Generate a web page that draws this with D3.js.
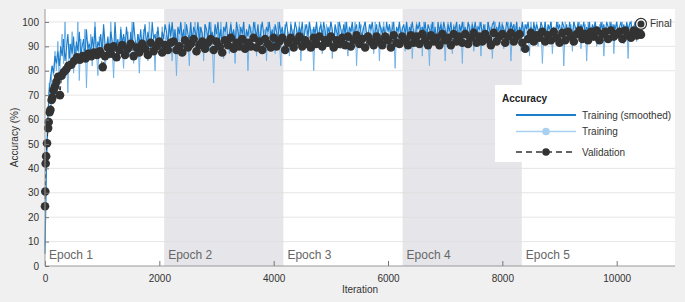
<!DOCTYPE html>
<html><head><meta charset="utf-8">
<script src="https://cdn.jsdelivr.net/npm/d3@7"></script>
<style>
html,body{margin:0;padding:0;background:#f0f0f0;}
svg{display:block;font-family:"Liberation Sans",Arial,Helvetica,sans-serif;}
</style></head>
<body>
<svg id="chart" width="685" height="302"></svg>
<script>
// ---- data ----
const totalIter = 10425;
const epochLabels = ["Epoch 1","Epoch 2","Epoch 3","Epoch 4","Epoch 5"];
const epochEnds = [2085, 4170, 6255, 8340, 10425];
const xTicks = [0, 2000, 4000, 6000, 8000, 10000];
const yTicks = [0,10,20,30,40,50,60,70,80,90,100];

// training accuracy per mini-batch, sampled every 25 iterations
const trainAcc = [
 8,45,62,75,70,82,78,88,80,
 92,74,88,95,83,100,86,71,91,84,96,79,
 90,87,100,76,93,85,89,97,73,92,86,95,
 82,90,100,88,78,94,87,91,97,80,89,93,
 85,100,90,77,95,88,92,84,98,90,81,94,
 89,96,86,92,100,83,91,88,95,79,93,90,
 97,87,92,84,100,91,88,94,80,96,90,93,86,98,89,92,
 95,88,100,91,84,97,93,78,96,90,99,87,
 94,100,89,92,82,97,95,91,100,86,93,98,
 90,96,84,99,92,95,88,100,93,75,97,91,
 96,89,100,94,85,98,92,95,87,100,93,96,
 83,97,91,99,94,88,100,92,96,80,95,98,
 90,94,100,86,96,92,99,89,95,97,84,100,
 93,96,91,98,87,95,100,92,82,97,94,
 99,91,96,86,100,94,97,89,98,93,100,84,
 96,92,99,95,88,100,93,97,80,96,99,91,
 95,100,87,97,93,99,90,96,100,85,94,98,
 92,100,96,89,97,94,100,91,86,98,95,99,
 93,100,82,96,92,99,97,88,100,94,96,90,
 99,95,87,100,93,97,84,98,96,100,92,95,
 89,99,94,100,96,81,97,93,100,91,98,
 95,88,100,96,92,99,85,97,94,100,90,96,
 98,86,100,93,97,95,82,99,96,100,91,94,
 97,89,100,95,98,84,96,100,93,97,87,99,
 95,100,92,96,98,83,100,94,97,90,99,96,
 100,88,95,98,93,100,86,97,96,99,91,100,
 94,98,85,97,100,95,92,99,96,100,89,97,
 94,100,98,84,96,99,93,100,95,97,88,
 100,96,92,99,97,86,100,94,98,95,100,90,
 97,99,83,96,100,93,98,95,100,87,97,94,
 99,100,91,96,98,82,100,95,97,93,99,88,
 100,96,94,98,100,89,97,95,99,84,100,93,
 97,98,96,100,90,94,99,97,100,86,96,98,
 93,100,95,99,87,97,100,94,98,96,100,91,
 97,99,85,100,96,94,98,100,92,97,99,100
];

// smoothed training accuracy, sampled every 25 iterations
const smoothAcc = [
 5,40,60,72,78,82,79,86,83,
 88,82,90,86,93,84,89,95,85,91,87,94,
 83,92,88,96,86,90,93,85,97,89,91,87,
 94,88,98,86,92,90,95,87,99,91,89,94,
 86,96,92,88,100,90,93,87,97,91,95,89,
 98,92,88,96,90,100,93,89,95,91,97,88,
 94,99,90,96,92,88,100,93,95,90,98,92,89,96,93,99,
 96,91,99,94,100,92,97,89,98,95,100,93,
 97,90,99,95,93,100,91,98,96,94,100,92,
 98,95,90,99,97,93,100,94,96,91,99,95,
 100,93,97,89,98,96,100,92,95,99,94,97,
 91,100,96,93,98,95,100,90,97,94,99,96,
 92,100,97,94,99,91,96,100,95,93,98,96,
 100,94,97,90,99,96,93,100,95,98,92,97,
 100,95,91,99,96,94,100,97,93,98,95,100,
 92,97,99,94,100,96,90,98,95,100,93,97,
 99,94,100,96,92,98,95,100,97,91,99,96,
 94,100,97,93,99,95,100,92,98,96,100,94,
 97,99,91,100,96,94,98,100,95,93,99,97,
 100,94,96,99,92,100,97,95,98,93,100,96,
 99,94,97,100,91,98,96,100,94,97,99,95,
 100,93,98,96,100,95,92,99,97,100,94,98,
 96,100,93,99,97,95,100,94,98,91,100,96,
 99,95,100,97,93,99,96,100,94,98,97,100,
 92,99,96,100,95,98,94,100,97,93,99,96,
 100,95,98,97,100,94,99,96,92,100,97,95,
 99,100,94,98,96,100,93,99,97,95,100,98,
 94,100,97,99,95,100,92,98,96,100,94,99,
 97,100,95,98,93,100,96,99,97,94,100,98,
 96,100,93,99,97,100,95,98,94,100,97,99,
 95,100,98,96,99,93,100,97,95,100,98,96,
 100,94,99,97,100,95,98,96,100,93,99,97,
 100,96,98,94,100,97,99,95,100,98,96,100,
 93,99,97,100,95,98,100,96,99,94,100,97,
 99,100,96,98,100,95,99,97,100
];

// validation: early checkpoints
const valEarlyIter = [0,5,12,20,35,55,65,80,95,115,130,150,175,200,230,262,290,330,370,410,460,510,560,610,660,710,760,810,860,910,960,1010];
const valEarlyAcc  = [24.5,30.5,42,45,50.3,56.5,59,63,64,68,69,72,73.5,75.5,77.5,70,78,79.5,80.5,82,82.5,84,85.5,84.5,86,85,87,86,87.5,86.5,88,81.5];
// validation: every 50 iterations from 1050 to 10400
const valAcc = [
 86,89.5,87,90,85.5,88.5,90.5,86.5,89,91,86,89.5,
 87.5,91,89,86.5,91.5,88,90,92,87.5,90.5,88.5,91.5,
 92,88.5,90,87.5,92.5,89.5,91,93,88,90.5,92,89,
 91.5,93,88.5,92,90,87.5,92.5,90.5,93.5,89,91.5,90,
 93,89,91.5,90,93.5,89.5,92,88.5,93,91,89.5,93.5,
 90,92,93.5,88.5,91.5,93.5,89.5,92,94,90,92.5,91,
 89.5,93.5,91,94,90,92.5,91.5,94,89.5,92.5,91,93.5,
 90.5,94,90,92.5,94.5,91,93,89.5,94,92,90.5,94,
 92,90.5,94,92.5,89.5,94.5,91.5,91,94,92.5,90.5,94.5,
 91.5,94,91,95,92.5,90.5,94.5,92,93.5,90.5,95,92.5,
 93.5,90.5,95,92,94,91.5,95,91,93.5,95.5,91.5,94,
 92,95,93,90.5,95.5,92,94,95,91.5,94,95.5,92,
 94,95,91.5,89,93,95.5,92,94.5,93.5,96,92,94.5,
 92.5,96,93.5,91.5,95.5,92.5,96,94,92,95,96.5,93,
 95,92.5,96,94,96.5,92.5,95,96,93,96.5,94,95,
 96,93,96.5,94.5,93.5,96.5,94.5,95.5
];
const valLastIter = 10425, valLastAcc = 94.8;
const finalIter = 10425, finalAcc = 99.2;

// ---- drawing ----
const svg = d3.select("#chart");
const W = 685, H = 302;
const m = {l:45, r:10, t:9, b:36};
const xMax = 11020, yMax = 105.3;
const x = d3.scaleLinear().domain([0, xMax]).range([m.l, W - m.r]);
const y = d3.scaleLinear().domain([0, yMax]).range([H - m.b, m.t]);

svg.append("rect").attr("width", W).attr("height", H).attr("fill", "#f0f0f0");
svg.append("rect").attr("x", x(0)).attr("y", y(yMax))
  .attr("width", x(xMax) - x(0)).attr("height", y(0) - y(yMax)).attr("fill", "#ffffff");

// epoch bands
const epochStarts = [0].concat(epochEnds.slice(0, -1));
svg.append("g").selectAll("rect").data(epochStarts.map((s,i)=>({s, e:epochEnds[i], i})).filter(d=>d.i%2===1))
  .join("rect")
  .attr("x", d => x(d.s)).attr("width", d => x(d.e) - x(d.s))
  .attr("y", y(yMax)).attr("height", y(0) - y(yMax))
  .attr("fill", "#e6e6ea");

// grid
svg.append("g").selectAll("line").data(yTicks.slice(1)).join("line")
  .attr("x1", x(0)).attr("x2", x(xMax))
  .attr("y1", d => y(d)).attr("y2", d => y(d))
  .attr("stroke", "#dedede").attr("stroke-width", 0.8);

// epoch labels
svg.append("g").selectAll("text").data(epochLabels).join("text")
  .attr("x", (d,i) => x(epochStarts[i]) + 4).attr("y", y(0) - 7)
  .attr("font-size", 12).attr("fill", "#666").text(d => d);

// training series
const trainLine = d3.line()
  .x((d,i) => x(i * totalIter / (trainAcc.length - 1))).y(d => y(d));
svg.append("path").datum(trainAcc).attr("d", trainLine)
  .attr("fill", "none").attr("stroke", "#72b3e8").attr("stroke-width", 1);

const smoothLine = d3.line()
  .x((d,i) => x(i * totalIter / (smoothAcc.length - 1))).y(d => y(d));
svg.append("path").datum(smoothAcc).attr("d", smoothLine)
  .attr("fill", "none").attr("stroke", "#1c7dcb").attr("stroke-width", 1.1);

// validation
const valRegIter = d3.range(1050, 10401, 50);
const valPts = valEarlyIter.map((it,i)=>[it, valEarlyAcc[i]])
  .concat(valRegIter.map((it,i)=>[it, valAcc[i]]))
  .concat([[valLastIter, valLastAcc]]);
svg.append("path").datum(valPts)
  .attr("d", d3.line().x(d => x(d[0])).y(d => y(d[1])))
  .attr("fill", "none").attr("stroke", "#333").attr("stroke-width", 1)
  .attr("stroke-dasharray", "4,3");
svg.append("g").selectAll("circle").data(valPts).join("circle")
  .attr("cx", d => x(d[0])).attr("cy", d => y(d[1])).attr("r", 4.3)
  .attr("fill", "#333333");

// final marker
svg.append("circle").attr("cx", x(finalIter)).attr("cy", y(finalAcc)).attr("r", 5.5)
  .attr("fill", "#ffffff").attr("stroke", "#333").attr("stroke-width", 1.2);
svg.append("circle").attr("cx", x(finalIter)).attr("cy", y(finalAcc)).attr("r", 3.5)
  .attr("fill", "#333");
svg.append("text").attr("x", x(finalIter) + 9).attr("y", y(finalAcc) + 3.5)
  .attr("font-size", 10).attr("fill", "#333").text("Final");

// axes
const xAxis = d3.axisBottom(x).tickValues(xTicks).tickSize(-5).tickPadding(9).tickFormat(d3.format("d"));
const gx = svg.append("g").attr("transform", `translate(0,${y(0)})`).call(xAxis);
gx.select(".domain").attr("stroke", "#9a9a9a").attr("d", `M${x(0)},0H${x(xMax)}`);
gx.selectAll(".tick line").attr("stroke", "#777");
gx.selectAll(".tick text").attr("font-size", 10).attr("fill", "#333")
  .attr("font-family", "'Liberation Sans',Arial,sans-serif");

const yAxis = d3.axisLeft(y).tickValues(yTicks).tickSize(-4).tickPadding(6);
const gy = svg.append("g").attr("transform", `translate(${x(0)},0)`).call(yAxis);
gy.select(".domain").attr("stroke", "#9a9a9a").attr("d", `M0,${y(0)}V${y(yMax)}`);
gy.selectAll(".tick line").attr("stroke", "#777");
gy.selectAll(".tick text").attr("font-size", 10).attr("fill", "#333")
  .attr("font-family", "'Liberation Sans',Arial,sans-serif");

svg.append("text").attr("x", (x(0) + x(xMax)) / 2).attr("y", 293)
  .attr("text-anchor", "middle").attr("font-size", 10).attr("fill", "#333").text("Iteration");
svg.append("text").attr("transform", `translate(18,${(y(0) + y(yMax)) / 2}) rotate(-90)`)
  .attr("text-anchor", "middle").attr("font-size", 10).attr("fill", "#333").text("Accuracy (%)");

// legend
const lg = svg.append("g");
lg.append("rect").attr("x", 495).attr("y", 85).attr("width", x(xMax) - 495).attr("height", 77)
  .attr("fill", "#ffffff");
lg.append("text").attr("x", 502).attr("y", 101.5).attr("font-size", 10).attr("font-weight", "bold")
  .attr("fill", "#222").text("Accuracy");
const items = [
  {label:"Training (smoothed)", y:115, color:"#1c7dcb", w:1.8, dash:null, dot:null},
  {label:"Training", y:131.5, color:"#a9d0f0", w:1.5, dash:null, dot:"#a9d0f0"},
  {label:"Validation", y:152, color:"#333", w:1.3, dash:"6,4", dot:"#333"}
];
items.forEach(it => {
  lg.append("line").attr("x1", 516).attr("x2", 576).attr("y1", it.y).attr("y2", it.y)
    .attr("stroke", it.color).attr("stroke-width", it.w)
    .attr("stroke-dasharray", it.dash);
  if (it.dot) lg.append("circle").attr("cx", 546).attr("cy", it.y).attr("r", 3.8).attr("fill", it.dot);
  lg.append("text").attr("x", 582).attr("y", it.y + 3.5).attr("font-size", 10)
    .attr("fill", "#333").text(it.label);
});
</script>
</body></html>
